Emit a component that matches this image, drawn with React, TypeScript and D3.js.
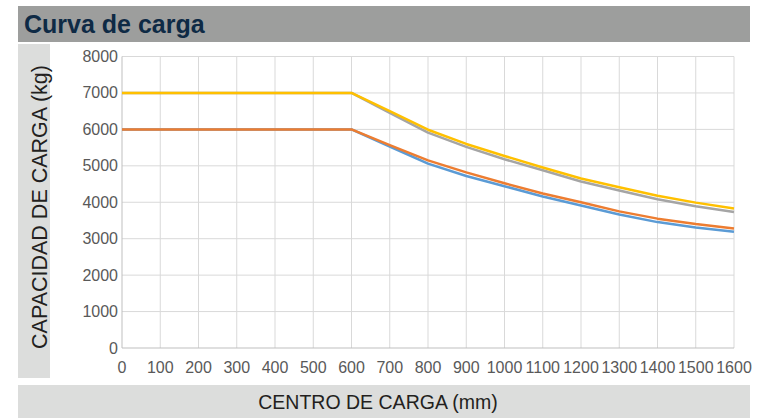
import React, { useEffect, useRef } from 'react';
import * as d3 from 'd3';

// centro de carga (mm)
const centros = [0, 100, 200, 300, 400, 500, 600, 700, 800, 900, 1000, 1100, 1200, 1300, 1400, 1500, 1600];
// capacidad (kg) por serie
const serieAzul = [6000, 6000, 6000, 6000, 6000, 6000, 6000, 5530, 5060, 4720, 4440, 4160, 3910, 3665, 3455, 3310, 3190];
const serieNaranja = [6000, 6000, 6000, 6000, 6000, 6000, 6000, 5570, 5150, 4820, 4520, 4240, 4000, 3750, 3550, 3400, 3280];
const serieGris = [7000, 7000, 7000, 7000, 7000, 7000, 7000, 6450, 5910, 5520, 5180, 4880, 4570, 4320, 4080, 3890, 3730];
const serieAmarilla = [7000, 7000, 7000, 7000, 7000, 7000, 7000, 6500, 5990, 5600, 5270, 4955, 4650, 4410, 4180, 3990, 3830];
const yTicks = [0, 1000, 2000, 3000, 4000, 5000, 6000, 7000, 8000];

const series = [
  { name: 'azul', values: serieAzul, color: '#5b9bd5' },
  { name: 'naranja', values: serieNaranja, color: '#ed7d31' },
  { name: 'gris', values: serieGris, color: '#a5a5a5' },
  { name: 'amarilla', values: serieAmarilla, color: '#ffc000' },
];

const W = 765;
const H = 418;
const font = 'Liberation Sans, Arial, sans-serif';

const App = () => {
  const svgRef = useRef<SVGSVGElement>(null);

  useEffect(() => {
    const svg = d3.select(svgRef.current);
    svg.selectAll('*').remove();

    const x = d3.scaleLinear().domain([0, 1600]).range([122, 734]);
    const y = d3.scaleLinear().domain([0, 8000]).range([348, 56.5]);

    // title bar
    svg.append('rect').attr('x', 18).attr('y', 6).attr('width', 732).attr('height', 36).attr('fill', '#9d9e9d');
    svg.append('text')
      .attr('x', 24).attr('y', 33)
      .text('Curva de carga')
      .style('font-family', font)
      .style('font-weight', 'bold')
      .style('font-size', '25px')
      .attr('fill', '#0e2a45');

    // y label panel
    svg.append('rect').attr('x', 18).attr('y', 44).attr('width', 32).attr('height', 334).attr('fill', '#dcdddc');
    svg.append('text')
      .attr('transform', 'translate(47, 207) rotate(-90)')
      .attr('text-anchor', 'middle')
      .text('CAPACIDAD DE CARGA (kg)')
      .style('font-family', font)
      .style('font-size', '21.5px')
      .attr('fill', '#231f20');

    // x label panel
    svg.append('rect').attr('x', 18).attr('y', 385).attr('width', 732).attr('height', 33).attr('fill', '#dcdddc');
    svg.append('text')
      .attr('x', 378).attr('y', 409)
      .attr('text-anchor', 'middle')
      .text('CENTRO DE CARGA (mm)')
      .style('font-family', font)
      .style('font-size', '19.5px')
      .attr('fill', '#231f20');

    // grid
    const grid = svg.append('g');
    grid.selectAll('line.v')
      .data(centros.slice(1))
      .enter()
      .append('line')
      .attr('x1', d => x(d)).attr('x2', d => x(d))
      .attr('y1', y(0)).attr('y2', y(8000))
      .attr('stroke', '#d9d9d9')
      .attr('stroke-width', 1);
    grid.selectAll('line.h')
      .data(yTicks.slice(1))
      .enter()
      .append('line')
      .attr('x1', x(0)).attr('x2', x(1600))
      .attr('y1', d => y(d)).attr('y2', d => y(d))
      .attr('stroke', '#d9d9d9')
      .attr('stroke-width', 1);
    // axis lines
    svg.append('line').attr('x1', x(0)).attr('x2', x(0)).attr('y1', y(0)).attr('y2', y(8000)).attr('stroke', '#bfbfbf');
    svg.append('line').attr('x1', x(0)).attr('x2', x(1600)).attr('y1', y(0)).attr('y2', y(0)).attr('stroke', '#bfbfbf');

    // tick labels
    svg.selectAll('text.yt')
      .data(yTicks)
      .enter()
      .append('text')
      .attr('x', 118)
      .attr('y', d => y(d) + 5.5)
      .attr('text-anchor', 'end')
      .text(d => d)
      .style('font-family', font)
      .style('font-size', '16px')
      .attr('fill', '#595959');
    svg.selectAll('text.xt')
      .data(centros)
      .enter()
      .append('text')
      .attr('x', d => x(d))
      .attr('y', 373)
      .attr('text-anchor', 'middle')
      .text(d => d)
      .style('font-family', font)
      .style('font-size', '16px')
      .attr('fill', '#595959');

    // lines
    const line = d3.line<number>()
      .x((d, i) => x(centros[i]))
      .y(d => y(d));
    svg.selectAll('path.serie')
      .data(series)
      .enter()
      .append('path')
      .attr('d', d => line(d.values))
      .attr('fill', 'none')
      .attr('stroke', d => d.color)
      .attr('stroke-width', 2.5)
      .attr('stroke-linejoin', 'round');
  }, []);

  return (
    <svg ref={svgRef} width={W} height={H} style={{ position: 'absolute', left: 0, top: 0, background: '#fff' }} />
  );
};

export default App;
